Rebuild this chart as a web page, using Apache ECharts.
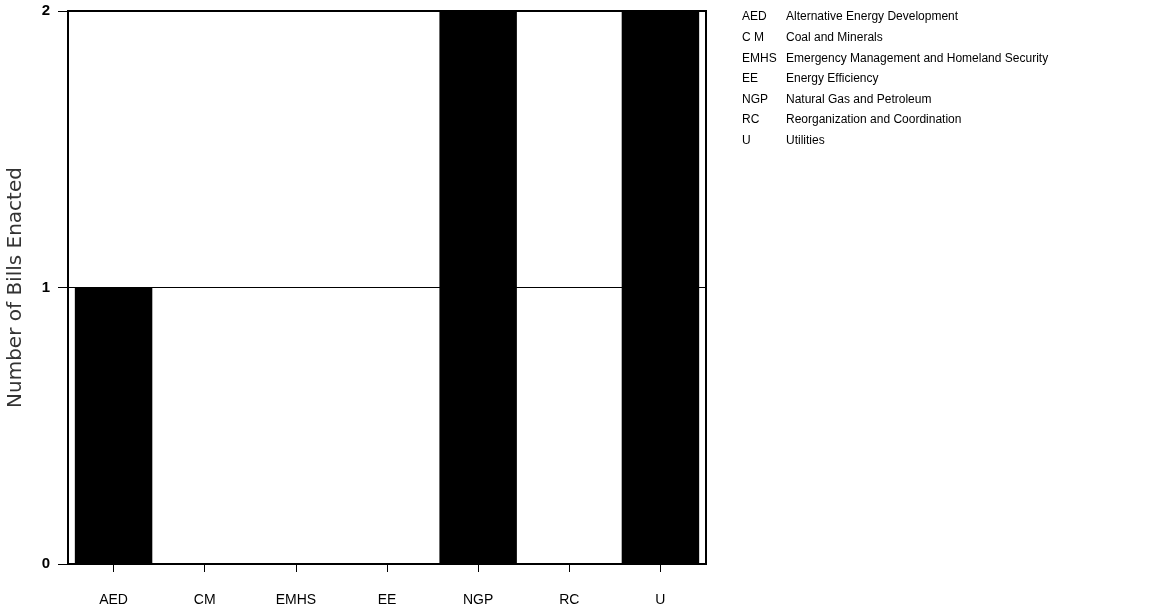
<!DOCTYPE html>
<html><head><meta charset="utf-8">
<script src="https://cdn.jsdelivr.net/npm/echarts@6/dist/echarts.min.js"></script>
<style>html,body{margin:0;padding:0;background:#fff}#c{width:1156px;height:611px}</style>
</head><body><div id="c"></div>
<script>
const categories = ['AED','CM','EMHS','EE','NGP','RC','U'];
const billsEnacted = [1,0,0,0,2,0,2];
const legendCodes = ['AED','C M','EMHS','EE','NGP','RC','U'];
const legendNames = ['Alternative Energy Development','Coal and Minerals','Emergency Management and Homeland Security','Energy Efficiency','Natural Gas and Petroleum','Reorganization and Coordination','Utilities'];

const chart = echarts.init(document.getElementById('c'));
const graphics = [];
legendCodes.forEach((c,i)=>{
  graphics.push({type:'text', left:742, top:11+i*20.6, style:{text:c, font:'12px "Liberation Sans", Arial', fill:'#000'}});
  graphics.push({type:'text', left:786, top:11+i*20.6, style:{text:legendNames[i], font:'12px "Liberation Sans", Arial', fill:'#000'}});
});
chart.setOption({
  animation:false,
  grid:{left:68, right:450, top:11, bottom:47, show:true, borderColor:'#000', borderWidth:2, backgroundColor:'#fff', containLabel:false, outerBoundsMode:'none'},
  xAxis:{type:'category', data:categories,
    axisLine:{lineStyle:{color:'#000', width:2}},
    axisTick:{show:true, alignWithLabel:true, length:8, lineStyle:{color:'#000', width:1}},
    axisLabel:{color:'#000', fontSize:14, fontFamily:'"Liberation Sans", Arial', margin:29}},
  yAxis:{type:'value', min:0, max:2, interval:1,
    name:'Number of Bills Enacted', nameLocation:'middle', nameGap:42,
    nameTextStyle:{color:'#333', fontSize:20, fontFamily:'"DejaVu Sans"', fontWeight:'normal'},
    axisLine:{show:true, lineStyle:{color:'#000', width:2}},
    axisTick:{show:true, length:10, lineStyle:{color:'#000'}},
    axisLabel:{color:'#000', fontSize:15, fontWeight:'bold', fontFamily:'"Liberation Sans", Arial', margin:18},
    splitLine:{show:true, lineStyle:{color:'#000', width:1}}},
  series:[{type:'bar', data:billsEnacted, barCategoryGap:'15%', itemStyle:{color:'#000'}}],
  graphic:graphics
});
</script></body></html>
